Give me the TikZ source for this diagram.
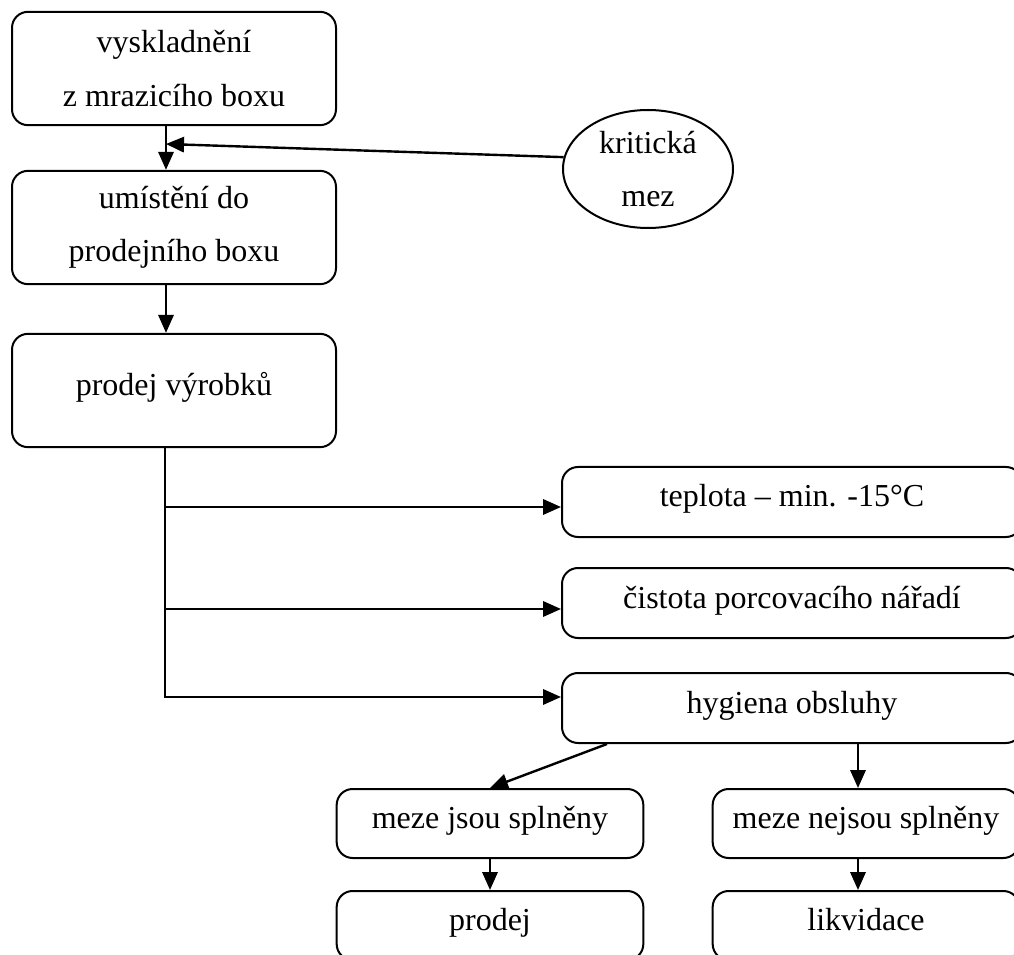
\documentclass[tikz,border=0pt]{standalone}
\usepackage{fontspec}
\setmainfont{Liberation Serif}
\usetikzlibrary{arrows.meta,shapes.geometric}

\tikzset{
  txt/.style={font=\fontsize{24}{40}\selectfont, align=center},
  stepbox/.style={txt, draw, line width=1.5pt, rounded corners=12pt, inner sep=0pt},
  oneline/.style={text height=14pt, text depth=6.5pt},
  wide/.style={stepbox, minimum width=243pt, minimum height=85pt},
  side/.style={stepbox, oneline, minimum width=345pt, minimum height=52.5pt},
  result/.style={stepbox, oneline, minimum width=230pt, minimum height=51.75pt},
  limit/.style={txt, draw, ellipse, line width=1.5pt, inner sep=0pt,
                minimum width=127.5pt, minimum height=88.5pt},
  conn/.style={line width=1.8pt},
  arr/.style={conn, -{Triangle[length=13.5pt,width=11.5pt]}},
}

\begin{document}
\begin{tikzpicture}[x=0.75pt, y=-0.75pt]
  \useasboundingbox (0,0) rectangle (1014,955);
  \fill[white] (0,0) rectangle (1014,955);
  \clip (0,0) rectangle (1014,955);

  % main column
  \node[wide] (b1) at (174,68.5)  {vyskladnění\\z mrazicího boxu};
  \node[wide] (b2) at (174,227.5) {umístění do\\prodejního boxu};
  \node[wide, oneline] (b3) at (174,390.5) {prodej výrobků};

  % critical limit
  \node[limit] (crit) at (648,169) {kritická\\mez};
  \coordinate (k) at (166,144);

  % checked points
  \node[side] (tA) at (792,502) {teplota – min. -15°C};
  \node[side] (tB) at (792,603) {čistota porcovacího nářadí};
  \node[side] (tC) at (792,708) {hygiena obsluhy};

  % outcomes
  \node[result] (m1) at (490,823.5) {meze jsou splněny};
  \node[result] (m2) at (866,823.5) {meze nejsou splněny};
  \node[result] (p1) at (490,925.5) {prodej};
  \node[result] (p2) at (866,925.5) {likvidace};

  \coordinate (j1) at (165,507);
  \coordinate (j2) at (165,609);

  % connectors
  \draw[arr] ([xshift=-6pt]b1.south) -- ([xshift=-6pt]b2.north);
  \draw[arr] (crit.172) -- (k);
  \draw[arr] ([xshift=-6pt]b2.south) -- ([xshift=-6pt]b3.north);
  \draw[arr] ([xshift=-6.75pt]b3.south) |- ([yshift=8.25pt]tC.west);
  \draw[arr] (j1) -- (j1 -| tA.west);
  \draw[arr] (j2) -- (j2 -| tB.west);

  \draw[arr] ([xshift=-138.75pt]tC.south) -- (m1.north);
  \draw[arr] ([xshift=49.5pt]tC.south) -- ([xshift=49.5pt]tC.south |- m2.north);
  \draw[arr] (m1.south) -- (p1.north);
  \draw[arr] ([xshift=-6pt]m2.south) -- ([xshift=-6pt]p2.north);
\end{tikzpicture}
\end{document}
